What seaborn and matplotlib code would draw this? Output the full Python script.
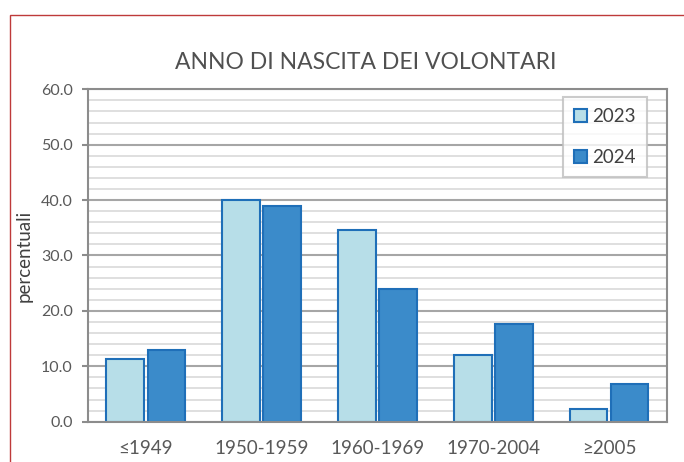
import pandas as pd
import matplotlib.pyplot as plt
import seaborn as sns
from matplotlib.ticker import MultipleLocator
from matplotlib.patches import Rectangle

# dati
fasce = ['≤1949', '1950-1959', '1960-1969', '1970-2004', '≥2005']
perc_2023 = [11.3, 40.0, 34.6, 12.1, 2.2]
perc_2024 = [13.0, 39.0, 23.9, 17.7, 6.8]
anni = ['2023', '2024']

df = pd.DataFrame({
    'fascia': fasce * 2,
    'perc': perc_2023 + perc_2024,
    'anno': [anni[0]] * len(fasce) + [anni[1]] * len(fasce),
})

sns.set_style("white")
plt.rcParams['font.family'] = ['Lato', 'DejaVu Sans']

fig = plt.figure(figsize=(6.84, 4.62), dpi=100)
ax = fig.add_axes([0.1287, 0.0873, 0.8463, 0.7194])

sns.barplot(data=df, x='fascia', y='perc', hue='anno', ax=ax,
            palette=['#B7DEE8', '#3B8BCA'], edgecolor='#1F6FB8',
            linewidth=1.5, width=0.71, gap=0.08, errorbar=None, saturation=1)

ax.set_ylim(0, 60)
ax.set_xlim(-0.5, 4.5)
ax.yaxis.set_major_locator(MultipleLocator(10))
ax.yaxis.set_minor_locator(MultipleLocator(2))
ax.set_yticks(range(0, 61, 10), [f'{v:.1f}' for v in range(0, 61, 10)])
ax.grid(which='minor', axis='y', color='#D9D9D9', lw=1.2)
ax.grid(which='major', axis='y', color='#A6A6A6', lw=1.5)
ax.set_axisbelow(True)

for s in ax.spines.values():
    s.set_color('#8C8C8C')
    s.set_linewidth(1.5)

ax.tick_params(axis='y', which='major', length=4, width=1.5, color='#8C8C8C',
               labelsize=11.5, labelcolor='#595959', pad=7, left=True)
ax.tick_params(axis='y', which='minor', length=0)
ax.tick_params(axis='x', length=0, labelsize=13.5, labelcolor='#595959', pad=13)

ax.set_xlabel('')
ax.set_ylabel('percentuali', fontsize=13.5, color='#404040')
ax.yaxis.set_label_coords(-0.095, 0.5)

fig.text(0.535, 0.864, 'ANNO DI NASCITA DEI VOLONTARI', ha='center', va='center',
         fontsize=16.5, color='#505050')

leg = ax.legend(loc='upper right', bbox_to_anchor=(0.965, 0.978), borderaxespad=0,
                fontsize=13.5, frameon=True, fancybox=False, labelspacing=1.3,
                handlelength=0.7, handleheight=0.7, handletextpad=0.25,
                borderpad=0.6, labelcolor='#404040')
leg.get_frame().set_edgecolor('#BFBFBF')
leg.get_frame().set_linewidth(1.5)

# cornice esterna
fig.patches.append(Rectangle((9.5 / 684, -0.1), 1.2, (462 - 15) / 462 + 0.1,
                             transform=fig.transFigure, fill=False,
                             edgecolor='#BE3A3A', lw=1))

fig.savefig('out.png', dpi=100)
